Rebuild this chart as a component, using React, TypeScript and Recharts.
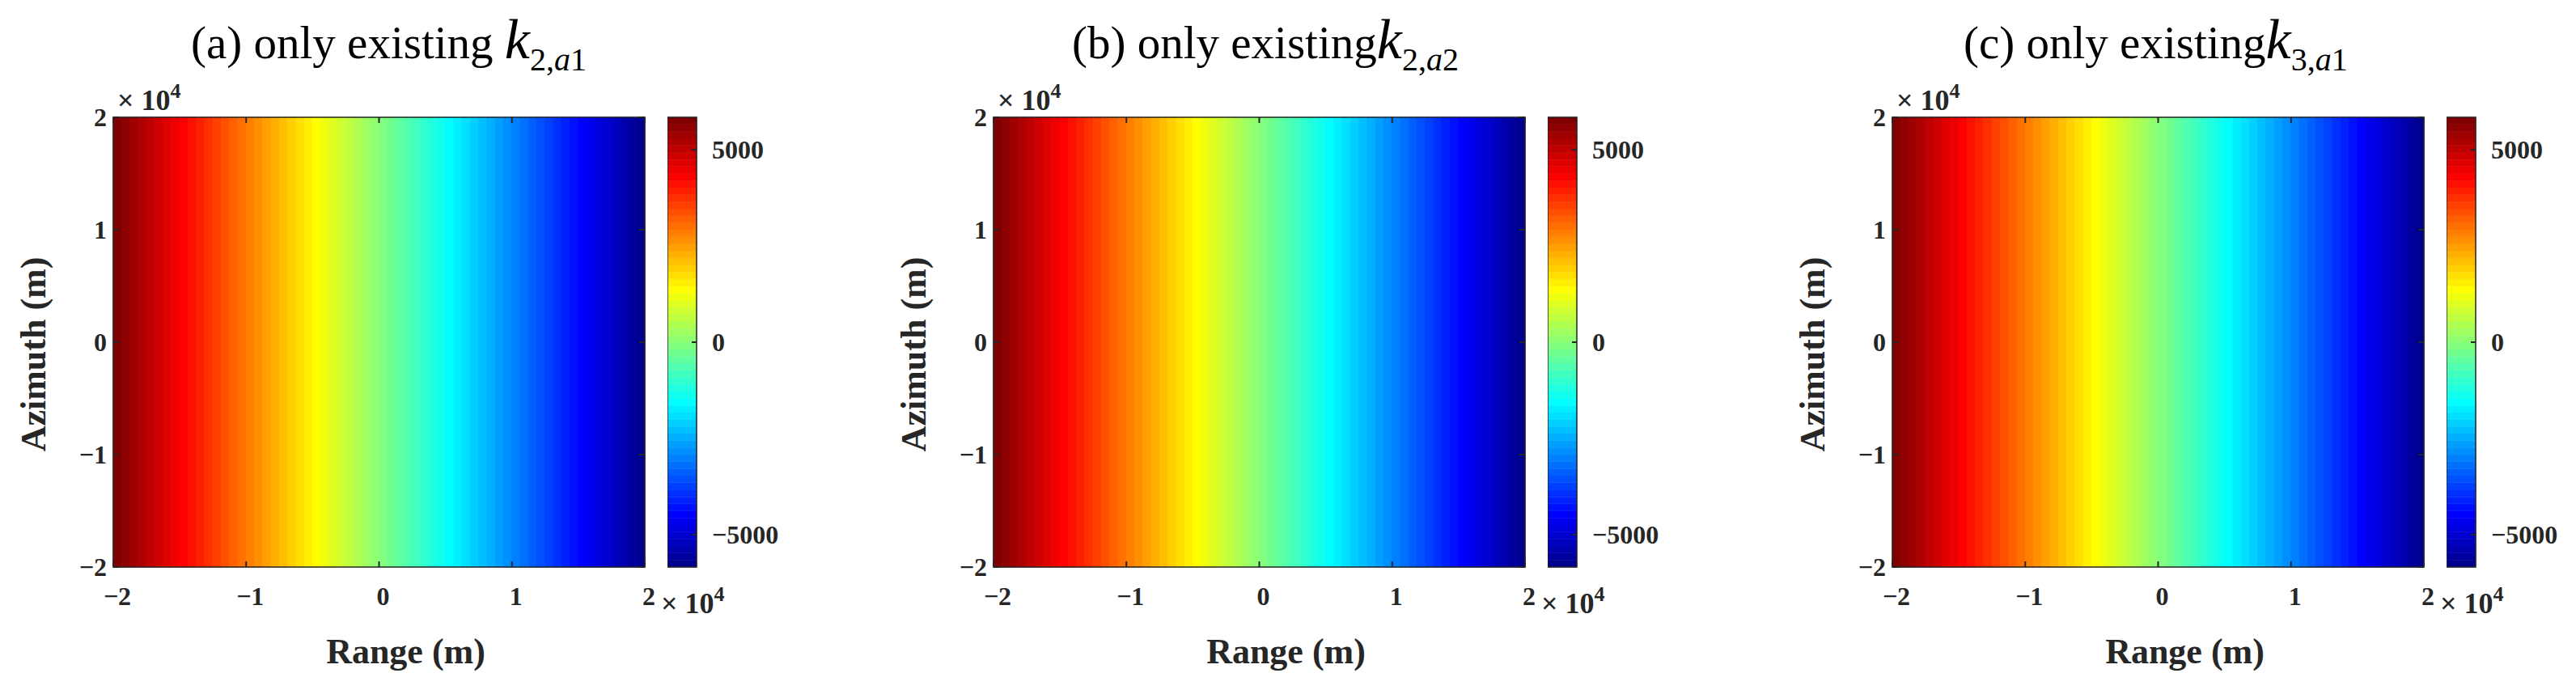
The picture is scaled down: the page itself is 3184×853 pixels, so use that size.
import React from 'react';
import { ComposedChart, XAxis, YAxis, ReferenceArea, Scatter } from 'recharts';

// ---------- data ----------
const rangeCenters = [
  -19687.5, -19062.5, -18437.5, -17812.5, -17187.5, -16562.5, -15937.5, -15312.5,
  -14687.5, -14062.5, -13437.5, -12812.5, -12187.5, -11562.5, -10937.5, -10312.5,
  -9687.5, -9062.5, -8437.5, -7812.5, -7187.5, -6562.5, -5937.5, -5312.5,
  -4687.5, -4062.5, -3437.5, -2812.5, -2187.5, -1562.5, -937.5, -312.5,
  312.5, 937.5, 1562.5, 2187.5, 2812.5, 3437.5, 4062.5, 4687.5,
  5312.5, 5937.5, 6562.5, 7187.5, 7812.5, 8437.5, 9062.5, 9687.5,
  10312.5, 10937.5, 11562.5, 12187.5, 12812.5, 13437.5, 14062.5, 14687.5,
  15312.5, 15937.5, 16562.5, 17187.5, 17812.5, 18437.5, 19062.5, 19687.5,
];

const valuesA = [
  5749, 5566, 5384, 5201, 5019, 4836, 4654, 4471, 4289, 4106, 3924, 3741, 3559, 3376, 3194, 3011,
  2829, 2646, 2464, 2281, 2099, 1916, 1734, 1551, 1369, 1186, 1004, 821, 639, 456, 274, 91,
  -91, -274, -456, -639, -821, -1004, -1186, -1369, -1551, -1734, -1916, -2099, -2281, -2464, -2646, -2829,
  -3011, -3194, -3376, -3559, -3741, -3924, -4106, -4289, -4471, -4654, -4836, -5019, -5201, -5384, -5566, -5749,
];
const valuesB = [
  5749, 5566, 5384, 5201, 5019, 4836, 4654, 4471, 4289, 4106, 3924, 3741, 3559, 3376, 3194, 3011,
  2829, 2646, 2464, 2281, 2099, 1916, 1734, 1551, 1369, 1186, 1004, 821, 639, 456, 274, 91,
  -91, -274, -456, -639, -821, -1004, -1186, -1369, -1551, -1734, -1916, -2099, -2281, -2464, -2646, -2829,
  -3011, -3194, -3376, -3559, -3741, -3924, -4106, -4289, -4471, -4654, -4836, -5019, -5201, -5384, -5566, -5749,
];
const valuesC = [
  5749, 5566, 5384, 5201, 5019, 4836, 4654, 4471, 4289, 4106, 3924, 3741, 3559, 3376, 3194, 3011,
  2829, 2646, 2464, 2281, 2099, 1916, 1734, 1551, 1369, 1186, 1004, 821, 639, 456, 274, 91,
  -91, -274, -456, -639, -821, -1004, -1186, -1369, -1551, -1734, -1916, -2099, -2281, -2464, -2646, -2829,
  -3011, -3194, -3376, -3559, -3741, -3924, -4106, -4289, -4471, -4654, -4836, -5019, -5201, -5384, -5566, -5749,
];

const rangeDomain = [-20000, 20000];
const azimuthDomain = [-20000, 20000];
const rangeTicks = [-20000, -10000, 0, 10000, 20000];
const azimuthTicks = [-20000, -10000, 0, 10000, 20000];
const colorLimits = [-5840, 5840];
const colorbarTicks = [-5000, 0, 5000];
const panelLetters = ['(a)', '(b)', '(c)'];
const panelSubIndex = ['2', '2', '3'];
const panelSubOrder = ['1', '2', '1'];
const panelValues = [valuesA, valuesB, valuesC];

// ---------- style ----------
const FONT = '"Liberation Serif", "Times New Roman", Times, serif';
const INK = '#262626';
const NLEV = 64;

function jet(n: number): string[] {
  const m = Math.ceil(n / 4);
  const u: number[] = [];
  for (let i = 1; i <= m; i++) u.push(i / m);
  for (let i = 1; i <= m - 1; i++) u.push(1);
  for (let i = m; i >= 1; i--) u.push(i / m);
  const g0 = Math.ceil(m / 2) - (n % 4 === 1 ? 1 : 0);
  const cm = Array.from({ length: n }, () => [0, 0, 0]);
  for (let j = 0; j < u.length; j++) {
    const g = g0 + j + 1;
    const r = g + m;
    const b = g - m;
    if (r >= 1 && r <= n) cm[r - 1][0] = u[j];
    if (g >= 1 && g <= n) cm[g - 1][1] = u[j];
    if (b >= 1 && b <= n) cm[b - 1][2] = u[j];
  }
  return cm.map(([r, g, b]) => `rgb(${Math.round(r * 255)},${Math.round(g * 255)},${Math.round(b * 255)})`);
}
const JET = jet(NLEV);

function colorOf(v: number): string {
  const [lo, hi] = colorLimits;
  let idx = Math.floor(((v - lo) / (hi - lo)) * NLEV);
  if (idx < 0) idx = 0;
  if (idx > NLEV - 1) idx = NLEV - 1;
  return JET[idx];
}

function fmtTick(v: number): string {
  const s = String(v / 10000);
  return s.startsWith('-') ? '\u2212' + s.slice(1) : s;
}
function fmtCb(v: number): string {
  return v < 0 ? '\u2212' + String(-v) : String(v);
}

const PLOT_W = 657;
const PLOT_H = 556;
const PLOT_TOP = 145;
const Y_AXIS_W = 100;
const X_AXIS_H = 70;
const M_TOP = 30;
const M_RIGHT = 30;
const CB_GAP = 28;
const CB_W = 36;
const CB_AXIS_W = 110;
const TICK_LEN = 7;

const panelLefts = [140, 1228, 2339];
const titleXs = [236, 1325, 2427];

function XTick(props: any) {
  const { x, y, payload } = props;
  return (
    <g>
      <line x1={x} y1={y} x2={x} y2={y - TICK_LEN} stroke={INK} strokeWidth={2} />
      <line x1={x} y1={y - PLOT_H} x2={x} y2={y - PLOT_H + TICK_LEN} stroke={INK} strokeWidth={2} />
      <text x={x + 5} y={y + 47} textAnchor="middle" fontFamily={FONT} fontWeight="bold" fontSize={32} fill={INK}>
        {fmtTick(payload.value)}
      </text>
    </g>
  );
}

function YTick(props: any) {
  const { x, y, payload } = props;
  return (
    <g>
      <line x1={x} y1={y} x2={x + TICK_LEN} y2={y} stroke={INK} strokeWidth={2} />
      <line x1={x + PLOT_W} y1={y} x2={x + PLOT_W - TICK_LEN} y2={y} stroke={INK} strokeWidth={2} />
      <text x={x - 8} y={y + 11} textAnchor="end" fontFamily={FONT} fontWeight="bold" fontSize={32} fill={INK}>
        {fmtTick(payload.value)}
      </text>
    </g>
  );
}

function CbTick(props: any) {
  const { x, y, payload } = props;
  return (
    <g>
      <line x1={x - 6} y1={y} x2={x} y2={y} stroke={INK} strokeWidth={2} />
      <text x={x + 19} y={y + 11} textAnchor="start" fontFamily={FONT} fontWeight="bold" fontSize={32} fill={INK}>
        {fmtCb(payload.value)}
      </text>
    </g>
  );
}

const emptyShape = () => <g />;

function HeatPanel({ left, values }: { left: number; values: number[] }) {
  const binW = rangeCenters[1] - rangeCenters[0];
  const corners = [
    { x: rangeDomain[0], y: azimuthDomain[0] },
    { x: rangeDomain[1], y: azimuthDomain[1] },
  ];
  return (
    <div style={{ position: 'absolute', left: left - Y_AXIS_W, top: PLOT_TOP - M_TOP }}>
      <ComposedChart
        width={Y_AXIS_W + PLOT_W + M_RIGHT}
        height={M_TOP + PLOT_H + X_AXIS_H}
        margin={{ top: M_TOP, right: M_RIGHT, bottom: 0, left: 0 }}
      >
        <XAxis
          type="number"
          dataKey="x"
          domain={rangeDomain}
          ticks={rangeTicks}
          interval={0}
          allowDataOverflow
          height={X_AXIS_H}
          tickSize={0}
          tickMargin={0}
          tickLine={false}
          axisLine={false}
          tick={(p: any) => <XTick {...p} />}
        />
        <YAxis
          type="number"
          dataKey="y"
          domain={azimuthDomain}
          ticks={azimuthTicks}
          interval={0}
          allowDataOverflow
          width={Y_AXIS_W}
          tickSize={0}
          tickMargin={0}
          tickLine={false}
          axisLine={false}
          tick={(p: any) => <YTick {...p} />}
        />
        {rangeCenters.map((c, i) => (
          <ReferenceArea
            key={i}
            x1={c - binW / 2}
            x2={c + binW / 2}
            y1={azimuthDomain[0]}
            y2={azimuthDomain[1]}
            fill={colorOf(values[i])}
            fillOpacity={1}
            stroke={colorOf(values[i])}
            strokeWidth={1}
            ifOverflow="visible"
          />
        ))}
        <ReferenceArea
          x1={rangeDomain[0]}
          x2={rangeDomain[1]}
          y1={azimuthDomain[0]}
          y2={azimuthDomain[1]}
          fill="none"
          fillOpacity={0}
          stroke={INK}
          strokeWidth={1.5}
          ifOverflow="visible"
        />
        <Scatter data={corners} shape={emptyShape} isAnimationActive={false} />
      </ComposedChart>
    </div>
  );
}

function ColorBar({ left }: { left: number }) {
  const [lo, hi] = colorLimits;
  const step = (hi - lo) / NLEV;
  const levels = JET.map((c, i) => ({ c, y1: lo + i * step, y2: lo + (i + 1) * step }));
  const corners = [
    { x: 0, y: lo },
    { x: 1, y: hi },
  ];
  return (
    <div style={{ position: 'absolute', left, top: PLOT_TOP - M_TOP }}>
      <ComposedChart
        width={CB_W + CB_AXIS_W}
        height={M_TOP + PLOT_H + M_TOP}
        margin={{ top: M_TOP, right: 0, bottom: M_TOP, left: 0 }}
      >
        <XAxis type="number" dataKey="x" domain={[0, 1]} hide allowDataOverflow />
        <YAxis
          type="number"
          dataKey="y"
          orientation="right"
          domain={colorLimits}
          ticks={colorbarTicks}
          interval={0}
          allowDataOverflow
          width={CB_AXIS_W}
          tickSize={0}
          tickMargin={0}
          tickLine={false}
          axisLine={false}
          tick={(p: any) => <CbTick {...p} />}
        />
        {levels.map((l, i) => (
          <ReferenceArea
            key={i}
            x1={0}
            x2={1}
            y1={l.y1}
            y2={l.y2}
            fill={l.c}
            fillOpacity={1}
            stroke={l.c}
            strokeWidth={0.6}
            ifOverflow="visible"
          />
        ))}
        <ReferenceArea x1={0} x2={1} y1={lo} y2={hi} fill="none" fillOpacity={0} stroke={INK} strokeWidth={1.5} ifOverflow="visible" />
        <Scatter data={corners} shape={emptyShape} isAnimationActive={false} />
      </ComposedChart>
    </div>
  );
}

function Overlay() {
  return (
    <svg
      width={3184}
      height={853}
      style={{ position: 'absolute', left: 0, top: 0, pointerEvents: 'none' }}
    >
      {panelLefts.map((pl, i) => {
        const pr = pl + PLOT_W;
        const cx = pl + PLOT_W / 2;
        const cy = PLOT_TOP + PLOT_H / 2;
        return (
          <g key={i} fontFamily={FONT} fill="#000">
            <text x={titleXs[i]} y={72} fontSize={57}>
              {panelLetters[i] + ' only existing' + (i === 0 ? '\u00a0' : '')}
              <tspan fontStyle="italic" fontSize={70}>k</tspan>
              <tspan fontSize={40} dy={15}>{panelSubIndex[i] + ','}</tspan>
              <tspan fontSize={40} fontStyle="italic">a</tspan>
              <tspan fontSize={40}>{panelSubOrder[i]}</tspan>
            </text>
            <text x={pl + 5} y={136} fontSize={36} fontWeight="bold" fill={INK}>
              {'\u00d7 10'}
              <tspan fontSize={26} dy={-15}>4</tspan>
            </text>
            <text x={pr + 20} y={758} fontSize={36} fontWeight="bold" fill={INK}>
              {'\u00d7 10'}
              <tspan fontSize={26} dy={-15}>4</tspan>
            </text>
            <text x={cx + 33} y={820} fontSize={44} fontWeight="bold" textAnchor="middle" fill={INK}>
              Range (m)
            </text>
            <text
              x={pl - 84}
              y={cy + 15}
              fontSize={44}
              fontWeight="bold"
              textAnchor="middle"
              fill={INK}
              transform={`rotate(-90 ${pl - 84} ${cy + 15})`}
            >
              Azimuth (m)
            </text>
          </g>
        );
      })}
    </svg>
  );
}

export default function App() {
  return (
    <div style={{ position: 'absolute', left: 0, top: 0, width: 3184, height: 853, background: '#fff', overflow: 'hidden' }}>
      {panelLefts.map((pl, i) => (
        <React.Fragment key={i}>
          <HeatPanel left={pl} values={panelValues[i]} />
          <ColorBar left={pl + PLOT_W + CB_GAP} />
        </React.Fragment>
      ))}
      <Overlay />
    </div>
  );
}
